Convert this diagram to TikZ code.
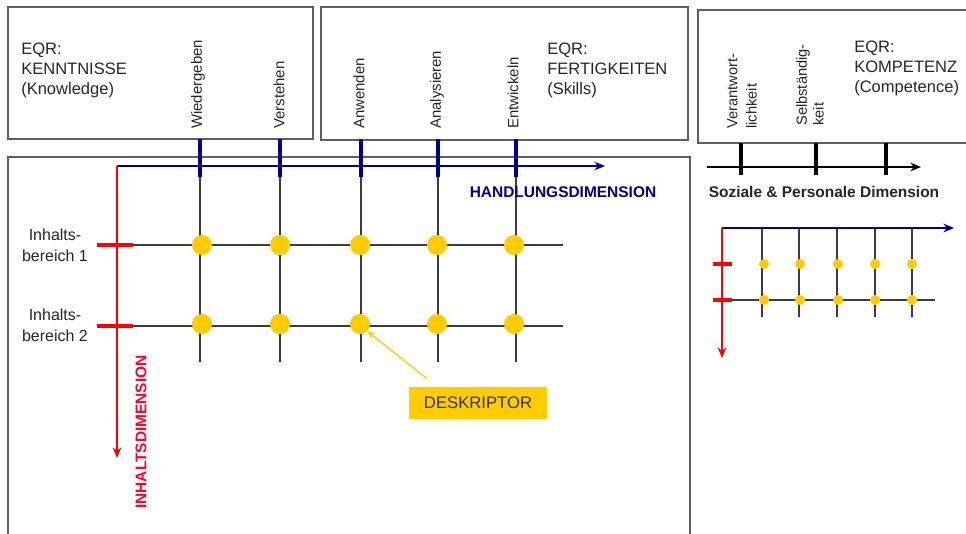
\documentclass[tikz,border=0pt]{standalone}
\usepackage{fontspec}
\setmainfont{Liberation Sans}
\usepackage{tikz}
\usetikzlibrary{arrows.meta,positioning}
\definecolor{axisblue}{RGB}{0,0,150}
\definecolor{axisred}{RGB}{255,0,0}
\definecolor{labelred}{RGB}{255,0,40}
\definecolor{dotgold}{RGB}{255,204,0}
\definecolor{framegray}{RGB}{95,95,95}
\definecolor{gridgray}{RGB}{60,60,60}

\begin{document}
\begin{tikzpicture}[
    x=0.75pt, y=-0.75pt,
    frame/.style={draw=framegray, line width=1.1pt},
    eqrlabel/.style={anchor=west, align=left, inner sep=0pt, text=black!85, font=\fontsize{12.4}{15}\selectfont},
    verb/.style={rotate=90, anchor=west, inner sep=0pt, text=black!85, font=\fontsize{11.2}{13}\selectfont},
    gridline/.style={gridgray, line width=1.4pt},
    rowline/.style={gridgray, line width=1.9pt},
    bluetick/.style={axisblue, line width=3pt},
    blacktick/.style={black, line width=2.6pt},
    redtick/.style={axisred, line width=3pt},
    haxis/.style={-{Stealth[length=8pt,width=6.5pt]}, axisblue, line width=2pt},
    kaxis/.style={-{Stealth[length=8pt,width=6.5pt]}, black, line width=1.6pt},
    vaxis/.style={-{Stealth[length=8pt,width=6.5pt]}, axisred, line width=2pt},
    dot/.style={circle, fill=dotgold, inner sep=0pt, minimum size=15pt},
    smalldot/.style={circle, fill=dotgold, inner sep=0pt, minimum size=7.5pt},
    dimlabel/.style={inner sep=0pt, font=\bfseries\fontsize{11.6}{13}\selectfont},
    rowlabel/.style={align=center, inner sep=0pt, text=black!85, font=\fontsize{12}{16}\selectfont},
    descbox/.style={rectangle, fill=dotgold, minimum width=103pt, minimum height=24pt, inner sep=0pt, text=black!80, font=\fontsize{12.5}{14}\selectfont},
    ptr/.style={-{Stealth[length=6pt,width=5pt]}, dotgold, line width=1pt},
]
\clip (0,0) rectangle (966,533);
\fill[white] (0,0) rectangle (966,533);

% Frames
\draw[frame] (8,7) rectangle (313,139);
\draw[frame] (321,7) rectangle (688,140);
\draw[frame] (698,10) rectangle (980,143);
\draw[frame] (8,157) rectangle (690,560);

% EQR headings
\node[eqrlabel] (kenntnisse) at (21,70) {EQR:\\KENNTNISSE\\(Knowledge)};
\node[eqrlabel] (fertigkeiten) at (547,70) {EQR:\\FERTIGKEITEN\\(Skills)};
\node[eqrlabel] (kompetenz) at (854,68) {EQR:\\KOMPETENZ\\(Competence)};

% Main grid
\coordinate (origin) at (117,166);
\coordinate (hend) at (605,166);
\coordinate (vend) at (117,458);
\foreach \y in {245,326} {
    \draw[rowline] (133,\y) -- (563,\y);
    \draw[redtick] (97,\y) -- (133,\y);
}
\foreach \x in {200,280,361,438,516} {
    \draw[gridline] (\x,166) -- (\x,362);
}
\draw[haxis] (origin) -- (hend);
\draw[vaxis] (origin) -- (vend);
\foreach \x in {200,280,361,438,516} {
    \draw[bluetick] (\x,139) -- (\x,177);
}
\foreach \x [count=\c] in {202,280,360,437,514} {
    \node[dot] (dot-1-\c) at (\x,245) {};
    \node[dot] (dot-2-\c) at (\x,324) {};
}

% Verbs
\node[verb] (wiedergeben) at (198,129) {Wiedergeben};
\node[verb] (verstehen) at (279,129) {Verstehen};
\node[verb] (anwenden) at (359,129) {Anwenden};
\node[verb] (analysieren) at (437,129) {Analysieren};
\node[verb] (entwickeln) at (513,129) {Entwickeln};

% Axis labels
\node[dimlabel, text=axisblue] (handlung) at (563,192) {HANDLUNGSDIMENSION};
\node[dimlabel, text=labelred, rotate=90] (inhalt) at (141,432) {INHALTSDIMENSION};
\node[rowlabel] (bereich1) at (55,245) {Inhalts-\\bereich 1};
\node[rowlabel] (bereich2) at (55,325) {Inhalts-\\bereich 2};

% Descriptor
\node[descbox] (desk) at (478,403) {DESKRIPTOR};
\draw[ptr] ([shift={(18,-8)}]desk.north west) -- (dot-2-3.south east);

% Social and personal dimension
\coordinate (kstart) at (707,167);
\coordinate (kend) at (921,167);
\draw[kaxis] (kstart) -- (kend);
\foreach \x in {741,816,886} {
    \draw[blacktick] (\x,143) -- (\x,175);
}
\node[verb, align=left, font=\fontsize{11}{14.5}\selectfont] (verantwort) at (742,129) {Verantwort-\\lichkeit};
\node[verb, align=left, font=\fontsize{11}{12.5}\selectfont] (selbst) at (810,126) {Selbständig-\\keit};
\node[dimlabel, text=black!85] (sozial) at (824,192) {Soziale \& Personale Dimension};

% Small grid
\coordinate (origin2) at (722,228);
\coordinate (hend2) at (954,228);
\coordinate (vend2) at (722,358);
\draw[rowline, line width=1.6pt] (732,300) -- (935,300);
\foreach \x in {762,799,837,875,912} {
    \draw[gridline, line width=1.2pt] (\x,228) -- (\x,317);
}
\draw[haxis] (origin2) -- (hend2);
\draw[vaxis] (origin2) -- (vend2);
\foreach \y in {264,300} {
    \draw[redtick] (713,\y) -- (732,\y);
}
\foreach \x [count=\c] in {764,800,838,875,912} {
    \node[smalldot] (sdot-1-\c) at (\x,264) {};
    \node[smalldot] (sdot-2-\c) at (\x,300) {};
}

\end{tikzpicture}
\end{document}
